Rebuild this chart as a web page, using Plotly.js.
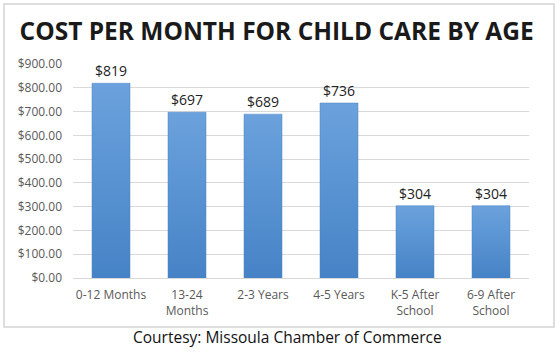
<!DOCTYPE html>
<html><head><meta charset="utf-8">
<script src="https://cdn.plot.ly/plotly-3.0.1.min.js"></script>
<style>html,body{margin:0;padding:0;background:#fff}</style>
</head><body><div id="chart" style="width:560px;height:358px"></div>
<script>
const categories = ["0-12 Months", "13-24<br>Months", "2-3 Years", "4-5 Years", "K-5 After<br>School", "6-9 After<br>School"];
const costs = [819, 697, 689, 736, 304, 304];
const valueLabels = ["$819", "$697", "$689", "$736", "$304", "$304"];
const yTicks = [0, 100, 200, 300, 400, 500, 600, 700, 800, 900];

const font = "Open Sans, Liberation Sans, sans-serif";
const trace = {
  type: "bar", x: categories, y: costs, text: valueLabels,
  textposition: "outside", cliponaxis: false,
  textfont: {family: font, size: 14, color: "#222"},
  marker: {color: "#5b95d5", line: {color: "#4a82c2", width: 0.5}},
  hoverinfo: "none"
};
const layout = {
  width: 560, height: 358,
  margin: {l: 73, r: 31, t: 64, b: 80},
  paper_bgcolor: "#fff", plot_bgcolor: "#fff",
  bargap: 0.5, showlegend: false,
  title: {text: "<b>COST PER MONTH FOR CHILD CARE BY AGE</b>", font: {family: font, size: 24.5, color: "#1a1a1a"},
    x: 0.494, xanchor: "center", y: 1 - 31/358, yanchor: "middle", yref: "container"},
  xaxis: {tickfont: {family: font, size: 12, color: "#595959"}, showline: true, linecolor: "#d9d9d9",
    ticks: "", ticklabelstandoff: 6, fixedrange: true},
  yaxis: {range: [0, 900], tickvals: yTicks, tickformat: "$,.2f", tickfont: {family: font, size: 12, color: "#595959"},
    showgrid: true, gridcolor: "#d9d9d9", zeroline: false, showline: false, ticks: "", ticklabelstandoff: 10},
  shapes: [{type: "rect", xref: "paper", yref: "paper", x0: (4-73)/456, x1: (554-73)/456,
    y0: (278-327)/214, y1: (278-4)/214, line: {color: "#d4d4d4", width: 1.5}}],
  annotations: [{text: "Courtesy: Missoula Chamber of Commerce", xref: "paper", yref: "paper",
    x: (287-73)/456, y: (278-337)/214, xanchor: "center", yanchor: "middle", showarrow: false,
    font: {family: font, size: 15.5, color: "#111"}}]
};
Plotly.newPlot("chart", [trace], layout, {displayModeBar: false, staticPlot: true}).then(gd => {
  const svg = gd.querySelector("svg.main-svg");
  const ns = "http://www.w3.org/2000/svg";
  let defs = svg.querySelector("defs");
  if (!defs) { defs = document.createElementNS(ns, "defs"); svg.insertBefore(defs, svg.firstChild); }
  const lg = document.createElementNS(ns, "linearGradient");
  lg.setAttribute("id", "barGrad"); lg.setAttribute("x1", "0"); lg.setAttribute("y1", "0");
  lg.setAttribute("x2", "0"); lg.setAttribute("y2", "1");
  [["0", "#6ba2dd"], ["1", "#4683c6"]].forEach(([o, c]) => {
    const s = document.createElementNS(ns, "stop"); s.setAttribute("offset", o); s.setAttribute("stop-color", c); lg.appendChild(s);
  });
  defs.appendChild(lg);
  gd.querySelectorAll(".bars .point path").forEach(p => { p.style.fill = "url(#barGrad)"; });
});
</script></body></html>
